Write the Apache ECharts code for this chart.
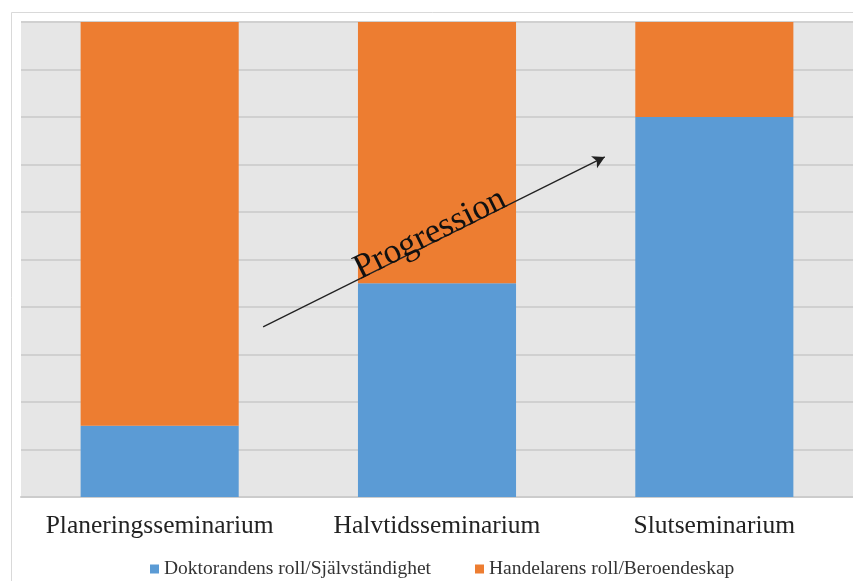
<!DOCTYPE html>
<html>
<head>
<meta charset="utf-8">
<script src="https://cdn.jsdelivr.net/npm/echarts@6/dist/echarts.min.js"></script>
<style>
html,body{margin:0;padding:0;background:#fff;}
#chart{width:853px;height:581px;}
</style>
</head>
<body>
<div id="chart"></div>
<script>
var categories = ['Planeringsseminarium', 'Halvtidsseminarium', 'Slutseminarium'];
var seriesNames = ['Doktorandens roll/Självständighet', 'Handelarens roll/Beroendeskap'];
var doktorand = [15, 45, 80];
var handelare = [85, 55, 20];
var arrowStart = [0.873, 35.8];
var arrowEnd = [2.105, 71.6];
var arrowText = 'Progression';

var serif = '"Liberation Serif", "DejaVu Serif", serif';
var chart = echarts.init(document.getElementById('chart'));
chart.setOption({
  animation: false,
  backgroundColor: '#ffffff',
  graphic: [{
    type: 'rect', left: 9, top: 10, z: -10,
    shape: { width: 900, height: 600 },
    style: { fill: 'none', stroke: '#d9d9d9', lineWidth: 1 }
  }],
  grid: {
    left: 21, right: 0, top: 22, bottom: 84,
    show: true, backgroundColor: '#e6e6e6', borderWidth: 0
  },
  legend: {
    left: 145, top: 554,
    itemWidth: 9, itemHeight: 9, itemGap: 44,
    icon: 'rect',
    textStyle: { fontFamily: serif, fontSize: 19.5, color: '#333' },
    data: seriesNames
  },
  xAxis: [{
    type: 'category', data: categories,
    axisLine: { show: true, lineStyle: { color: '#cccccc', width: 2 } },
    axisTick: { show: false },
    axisLabel: { interval: 0, hideOverlap: false, fontFamily: serif, fontSize: 25.5, color: '#222', margin: 16 }
  }, {
    type: 'value', min: 0, max: 3, show: false
  }],
  yAxis: {
    type: 'value', min: 0, max: 100, interval: 10,
    axisLabel: { show: false }, axisLine: { show: false }, axisTick: { show: false },
    splitLine: { lineStyle: { color: '#d0d0d0', width: 2 } }
  },
  series: [{
    name: seriesNames[0], type: 'bar', stack: 'a', barWidth: '57%',
    itemStyle: { color: '#5b9bd5' }, data: doktorand
  }, {
    name: seriesNames[1], type: 'bar', stack: 'a', barWidth: '57%',
    itemStyle: { color: '#ed7d31' }, data: handelare
  }, {
    type: 'line', xAxisIndex: 1, data: [], silent: true,
    markLine: {
      silent: true, animation: false,
      symbol: ['none', 'arrow'], symbolSize: [10, 12],
      lineStyle: { color: '#222', width: 1.3, type: 'solid' },
      label: {
        show: true, position: 'insideMiddleTop', distance: -9,
        formatter: arrowText,
        fontFamily: serif, fontSize: 35, color: '#111'
      },
      data: [[{ coord: arrowStart }, { coord: arrowEnd }]]
    }
  }]
});
</script>
</body>
</html>
